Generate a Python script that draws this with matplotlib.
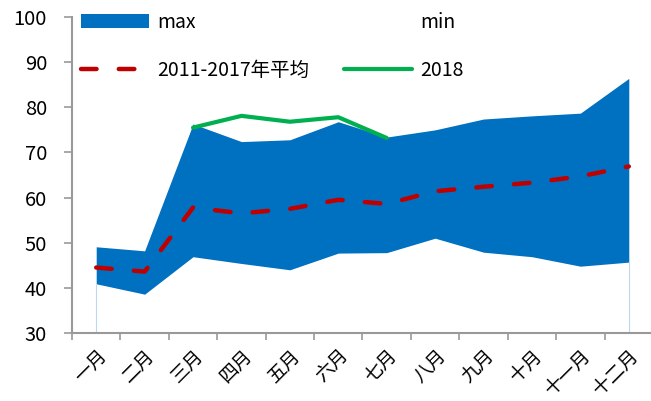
import matplotlib.pyplot as plt
from matplotlib.patches import Patch
from matplotlib.lines import Line2D

plt.rcParams["font.family"] = ["Noto Sans CJK SC", "DejaVu Sans"]

months = ["一月", "二月", "三月", "四月", "五月", "六月",
          "七月", "八月", "九月", "十月", "十一月", "十二月"]
max_vals = [49.1, 48.2, 76.3, 72.4, 72.8, 76.8, 73.4, 75.0, 77.4, 78.1, 78.7, 86.4]
min_vals = [40.9, 38.6, 46.9, 45.4, 44.0, 47.7, 47.8, 51.0, 47.9, 46.9, 44.8, 45.7]
avg_vals = [44.5, 43.6, 57.8, 56.5, 57.5, 59.5, 58.6, 61.4, 62.4, 63.3, 64.7, 66.9]
vals_2018 = [75.5, 78.1, 76.8, 77.8, 73.2]

x = list(range(len(months)))
x_2018 = x[2:2 + len(vals_2018)]

fig = plt.figure(figsize=(6.51, 4.01), dpi=100)
ax = fig.add_axes([72 / 651, 68 / 401, 581 / 651, 316 / 401])

# 最小値より下は白、min〜max の帯を青で塗る
ax.fill_between(x, min_vals, max_vals, color="#0070C0", linewidth=0, zorder=1)
ax.vlines([x[0], x[-1]], 30, [min_vals[0], min_vals[-1]], color="#BDD7EE", linewidth=0.8, zorder=1)
ax.plot(x, avg_vals, color="#C00000", linewidth=3.2, dashes=(3.5, 5),
        dash_capstyle="round", zorder=3)
ax.plot(x_2018, vals_2018, color="#00B050", linewidth=3, solid_capstyle="round", zorder=3)

ax.set_xlim(-0.5, 11.5)
ax.set_ylim(30, 100)
ax.set_yticks(range(30, 101, 10))
ax.set_xticks(x)
ax.set_xticklabels(months, rotation=45, ha="right", rotation_mode="anchor", fontsize=13.5)
ax.set_xticks([i - 0.5 for i in range(13)], minor=True)
ax.tick_params(axis="x", which="major", length=0, pad=9)
ax.tick_params(axis="x", which="minor", length=5, color="#999999", width=1.2)
ax.tick_params(axis="y", length=6, color="#999999", width=1.2, labelsize=14.5, pad=12)

for side in ["top", "right"]:
    ax.spines[side].set_visible(False)
for side in ["left", "bottom"]:
    ax.spines[side].set_color("#999999")
    ax.spines[side].set_linewidth(1.5)

handles = [
    Patch(facecolor="#0070C0", edgecolor="none"),
    Line2D([], [], color="#C00000", linewidth=3.2, dashes=(3.5, 5), dash_capstyle="round"),
    Patch(facecolor="none", edgecolor="none"),
    Line2D([], [], color="#00B050", linewidth=3, solid_capstyle="round"),
]
labels = ["max", "2011-2017年平均", "min", "2018"]
fig.legend(handles, labels, ncol=2, loc="upper left",
           bbox_to_anchor=(81 / 651, 1 - 12 / 401), bbox_transform=fig.transFigure,
           frameon=False, fontsize=14, handlelength=3.5, handleheight=0.75,
           columnspacing=1.8, labelspacing=1.4, handletextpad=0.4,
           borderpad=0, borderaxespad=0)

fig.savefig("out.png", dpi=100)
